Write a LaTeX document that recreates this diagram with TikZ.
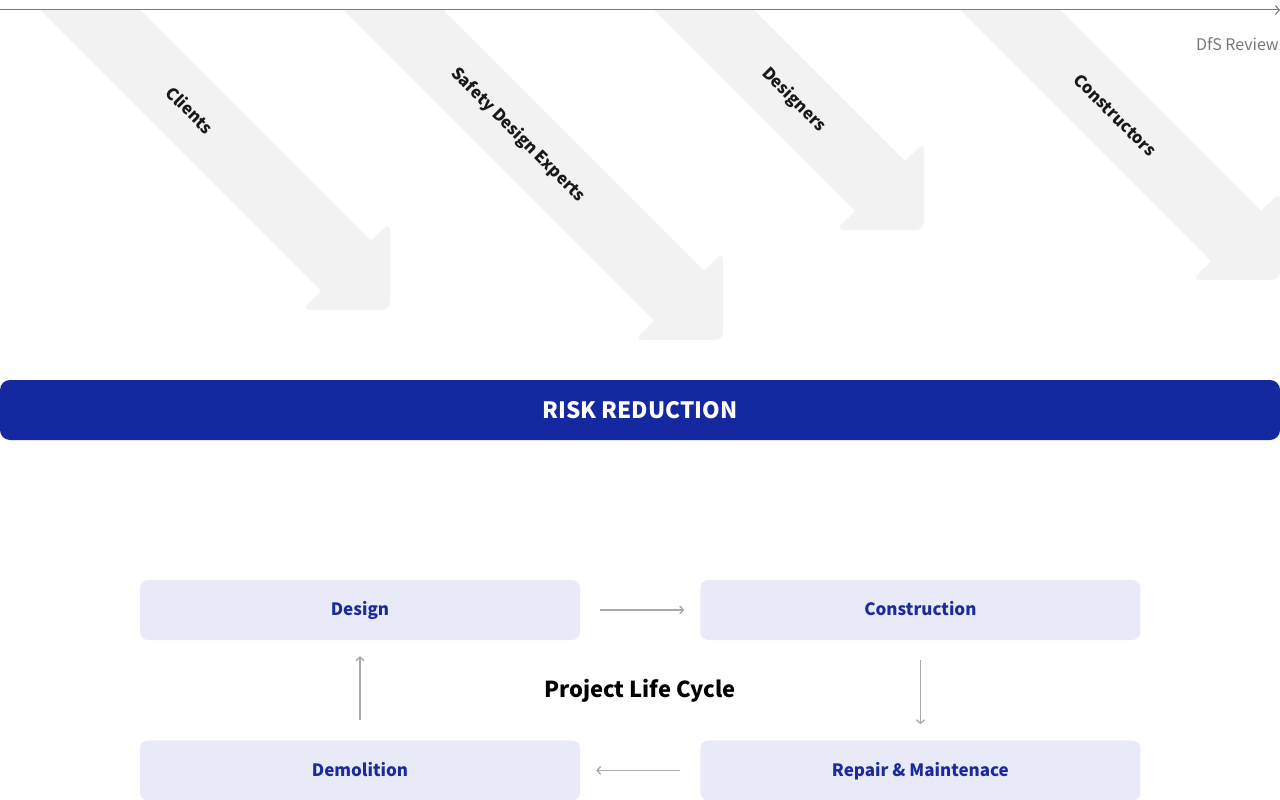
\documentclass[tikz,border=0pt]{standalone}
\usepackage{fontspec}
\setmainfont{Noto Sans CJK KR}
\usepackage{tikz}
\usetikzlibrary{positioning, arrows.meta}

\definecolor{bandgray}{HTML}{F2F2F2}
\definecolor{riskblue}{HTML}{1428A0}
\definecolor{stagefill}{HTML}{E8EAF8}
\definecolor{stagetext}{HTML}{1A2C9C}
\definecolor{linegray}{HTML}{777777}
\definecolor{flowgray}{HTML}{AAAAAA}

\tikzset{
	stage/.style={fill=stagefill, rounded corners=8pt, minimum width=440pt, minimum height=60pt,
		text=stagetext, font=\bfseries\fontsize{17}{21}\selectfont, inner sep=0pt,
		text height=14pt, text depth=2.6pt},
	flow/.style={draw=flowgray, line width=1.4pt, shorten <=20pt, shorten >=16pt,
		-{Straight Barb[length=3.5pt, width=8pt]}},
	rolelabel/.style={rotate=-45, font=\bfseries\fontsize{16.5}{20}\selectfont, text=black!90}
}

\begin{document}
\begin{tikzpicture}[x=1pt, y=-1pt, node distance=120pt]
	\useasboundingbox (0,0) rectangle (1280,800);

	% diagonal role arrows
	\foreach \cx/\cy/\lx/\txt in {390/310/190/Clients, 723/340/518/Safety Design Experts,
		924/230/794/Designers, 1280/280/1115/Constructors}{
		\begin{scope}[shift={(\cx,\cy)}]
			\fill[bandgray] ({60-\cy},{10-\cy}) -- (-5,-55) -- (-55,-5) -- ({-40-\cy},{10-\cy}) -- cycle;
			\fill[bandgray, rounded corners=8pt] (0,-88) -- (0,0) -- (-88,0) -- cycle;
		\end{scope}
		\node[rolelabel] at (\lx,{\lx-\cx+\cy}) {\txt};
	}

	% review line
	\coordinate(LineStart) at (0,10);
	\coordinate(LineEnd) at (1280,10);
	\draw[linegray, line width=1pt, -{Straight Barb[length=4pt, width=9pt]}] (LineStart) -- (LineEnd);
	\node(Review) [anchor=east, inner sep=0pt, text=linegray, font=\fontsize{16}{20}\selectfont] at (1279,44) {DfS Review};

	% risk reduction bar
	\node(Risk) [fill=riskblue, rounded corners=10pt, minimum width=1280pt, minimum height=60pt,
		text=white, font=\bfseries\fontsize{22.5}{27}\selectfont, inner sep=0pt] at (640,410) {RISK REDUCTION};

	% life cycle
	\node(Design) [stage] at (360,610) {Design};
	\node(Construction) [stage, right=120pt of Design] {Construction};
	\node(Repair) [stage, below=100pt of Construction] {Repair \& Maintenace};
	\node(Demolition) [stage, below=100pt of Design] {Demolition};
	\node(Cycle) [font=\bfseries\fontsize{22}{26}\selectfont] at (640,691) {Project Life Cycle};

	\draw[flow] (Design) -- (Construction);
	\draw[flow] (Construction) -- (Repair);
	\draw[flow] (Repair) -- (Demolition);
	\draw[flow] (Demolition) -- (Design);

\end{tikzpicture}
\end{document}
